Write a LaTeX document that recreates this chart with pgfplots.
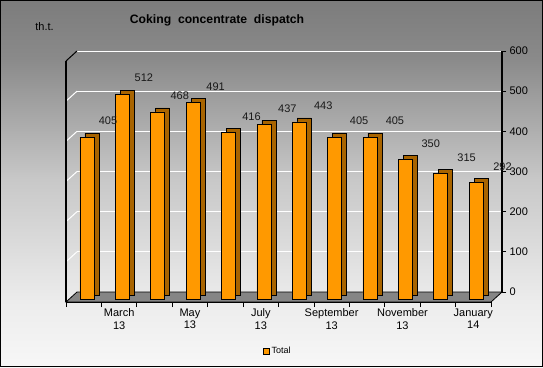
\documentclass[border=0pt]{standalone}
\usepackage{fontspec}
\setmainfont{Liberation Sans}
\usepackage{pgfplots}
\usepackage{pgfplotstable}
\pgfplotsset{compat=1.18}
\definecolor{barfront}{HTML}{FF9900}
\definecolor{barside}{HTML}{A86400}
\definecolor{floorc}{HTML}{858585}
\definecolor{bga}{HTML}{F7F7F7}
\definecolor{bgb}{HTML}{ECECEC}
\definecolor{bgc}{HTML}{C8C8C8}
\definecolor{bgd}{HTML}{8A8A8A}
\definecolor{bge}{HTML}{7C7C7C}
\pgfdeclareverticalshading{bgshade}{100bp}{color(0bp)=(bga); color(25bp)=(bga); color(34bp)=(bgb); color(50.5bp)=(bgc); color(67bp)=(bgd); color(75bp)=(bge); color(100bp)=(bge)}
\pgfplotstableread{
x y
1 405
2 512
3 468
4 491
5 416
6 437
7 443
8 405
9 405
10 350
11 315
12 292
}\data
\newcommand{\lblfont}{\fontsize{11}{12.5}\selectfont}
\begin{document}
\begin{tikzpicture}[x=1pt,y=1pt]
\shade[shading=bgshade] (0,0) rectangle (543,367);
\draw[black, line width=1pt] (0.5,0.5) rectangle (542.5,366.5);
\node[font=\bfseries\fontsize{12.2}{14}\selectfont] at (217,347) {Coking\ \ concentrate\ \ dispatch};
\node[font=\lblfont] at (44.5,340) {th.t.};
% back wall
\begin{axis}[at={(77pt,75pt)}, anchor=south west, scale only axis,
  width=425pt, height=241pt, xmin=0.5, xmax=12.5, ymin=0, ymax=600,
  axis x line=none, axis y line*=right,
  ytick={0,100,...,600}, ymajorgrids,
  grid style={white, line width=1pt},
  y axis line style={black, line width=1.2pt, -},
  tick style={black, line width=0.8pt}, major tick length=4pt, tick align=outside,
  yticklabel style={font=\lblfont},
  /pgf/number format/assume math mode=true, clip=false]
\addplot[draw=none] coordinates {(1,0)};
\end{axis}
% side wall
\foreach \v in {40.167,80.333,120.5,160.667,200.833} {\draw[white, line width=1pt] (66,65+\v) -- (77,75+\v);}
\draw[black, line width=1pt] (66,306) -- (77,316);
\draw[black, line width=1.2pt] (66,65) -- (66,306);
% floor
\filldraw[fill=floorc, draw=black, line width=0.8pt] (66,65) -- (491,65) -- (502,75) -- (77,75) -- cycle;
% category axis
\begin{axis}[at={(66pt,65pt)}, anchor=south west, scale only axis,
  width=425pt, height=241pt, xmin=0.5, xmax=12.5, ymin=0, ymax=600,
  axis y line=none, axis x line*=bottom,
  x axis line style={black, line width=1pt, -},
  xtick={0.5,1.5,...,12.5}, xticklabels={},
  extra x ticks={2,4,6,8,10,12},
  extra x tick labels={{March\\13},{May\\13},{July\\13},{September\\13},{November\\13},{January\\14}},
  extra x tick style={major tick length=0pt},
  xticklabel style={align=center, font=\lblfont, yshift=-3pt},
  tick style={black, line width=0.8pt}, major tick length=5pt, tick align=outside]
\addplot[draw=none] coordinates {(1,0)};
\end{axis}
% bar sides
\begin{axis}[at={(74.3pt,72pt)}, anchor=south west, scale only axis,
  width=424.4pt, height=240pt, xmin=0.5, xmax=12.5, ymin=0, ymax=600,
  axis lines=none, ybar, bar width=14pt]
\addplot[fill=barside, draw=black, line width=0.6pt] table[x=x,y=y] {\data};
\end{axis}
% bar fronts
\begin{axis}[at={(69.3pt,68pt)}, anchor=south west, scale only axis,
  width=424.4pt, height=240pt, xmin=0.5, xmax=12.5, ymin=0, ymax=600,
  axis lines=none, ybar, bar width=14pt,
  legend style={at={(axis description cs:0.4918,-0.2167)}, anchor=center,
    draw=none, fill=none, font=\fontsize{9}{10}\selectfont, inner sep=0pt},
  legend image code/.code={\draw[fill=barfront,draw=black,line width=0.4pt] (0pt,-3pt) rectangle (6pt,3pt);}]
\addplot[fill=barfront, draw=black, line width=0.6pt] table[x=x,y=y] {\data};
\addlegendentry{Total}
\end{axis}
% data labels
\begin{axis}[at={(90.06pt,82pt)}, anchor=south west, scale only axis,
  width=430.4pt, height=242.7pt, xmin=0.5, xmax=12.5, ymin=0, ymax=600,
  axis lines=none, clip=false, /pgf/number format/assume math mode=true]
\addplot[draw=none, mark=none, nodes near coords,
  every node near coord/.append style={anchor=center, inner sep=0pt, font=\lblfont, text=black!90}]
  table[x=x,y=y] {\data};
\end{axis}
\end{tikzpicture}
\end{document}
